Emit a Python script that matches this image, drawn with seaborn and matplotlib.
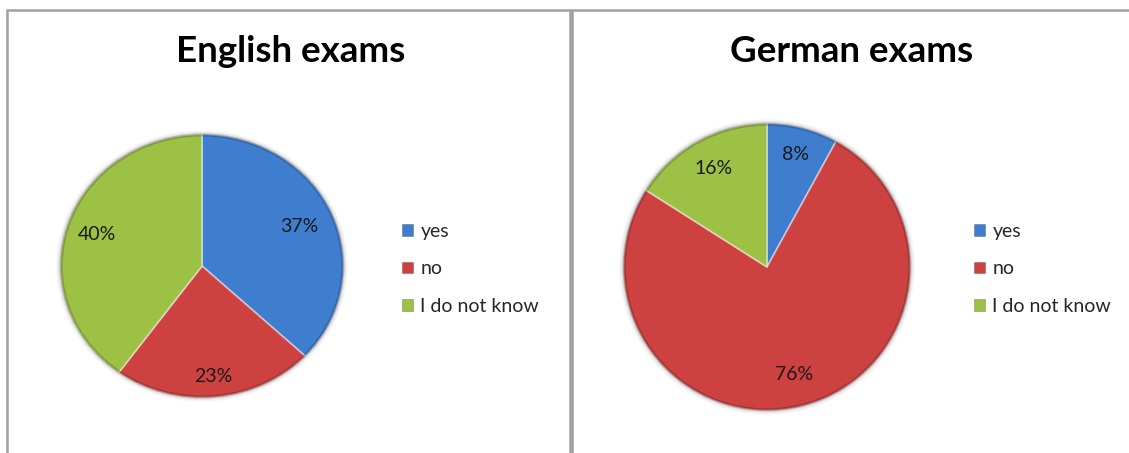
import matplotlib
matplotlib.use("Agg")
import matplotlib.pyplot as plt
from matplotlib.patches import Rectangle, Circle
import numpy as np
import seaborn as sns

sns.set_theme(style="white")
plt.rcParams["font.family"] = ["Lato", "DejaVu Sans"]

# Survey answers per exam
categories = ["yes", "no", "I do not know"]
english_share = [37, 23, 40]
german_share = [8, 76, 16]
titles = ["English exams", "German exams"]

colors = ["#3f7ecf", "#cd4141", "#9cc145"]

W, H = 1129, 453
fig = plt.figure(figsize=(W / 100, H / 100), dpi=100)

def fx(px):
    return px / W

def fy(py):
    return 1 - py / H

# panel frames
for x0, x1 in [(7, 570), (572, 1135)]:
    fig.patches.append(Rectangle((fx(x0), fy(470)), fx(x1 - x0), fy(10) - fy(470),
                                 transform=fig.transFigure, fill=False,
                                 edgecolor="#a0a0a0", linewidth=1.8, zorder=0))

panels = [
    dict(values=english_share, box=(59, 133, 345, 399), title_x=291, legend_x=402,
         label_r=[0.75, 0.84, 0.78]),
    dict(values=german_share, box=(622, 122, 912, 412), title_x=852, legend_x=974,
         label_r=[0.81, 0.77, 0.78]),
]

for title, p in zip(titles, panels):
    x0, y0, x1, y1 = p["box"]
    ax = fig.add_axes([fx(x0), fy(y1), fx(x1 - x0), fy(y0) - fy(y1)])
    # soft shadow around the pie
    for k, a in [(1.03, 0.04), (1.018, 0.06), (1.008, 0.08)]:
        ax.add_patch(Circle((0, 0), k, color=(0, 0, 0, a), linewidth=0,
                            zorder=0, clip_on=False))
    wedges, texts, autotexts = ax.pie(
        p["values"], colors=colors, startangle=90, counterclock=False,
        autopct="%d%%", pctdistance=0.76, radius=1.0,
        wedgeprops=dict(edgecolor=(1, 1, 1, 0.45), linewidth=1.3),
        textprops=dict(fontsize=14, color="#1a1a1a"),
    )
    # darker outer rim
    ax.add_patch(Circle((0, 0), 0.995, fill=False, edgecolor=(0, 0, 0, 0.2),
                        linewidth=2.2, zorder=3))
    # move each percentage along its wedge's bisector
    for w, t, r in zip(wedges, autotexts, p["label_r"]):
        mid = np.deg2rad((w.theta1 + w.theta2) / 2)
        t.set_position((r * np.cos(mid), r * np.sin(mid)))
        t.set_zorder(5)
    ax.set_aspect("auto")
    ax.set_xlim(-1.01, 1.01)
    ax.set_ylim(-1.01, 1.01)
    ax.axis("off")

    fig.text(fx(p["title_x"]), fy(62), title, ha="center", va="baseline",
             fontsize=26.5, fontweight="bold", color="#000000")

    handles = [Rectangle((0, 0), 1, 1, facecolor=c, edgecolor=(0, 0, 0, 0.25),
                         linewidth=0.6) for c in colors]
    fig.legend(handles, categories, loc="upper left",
               bbox_to_anchor=(fx(p["legend_x"]), fy(223)),
               frameon=False, fontsize=14, handlelength=0.55, handleheight=0.55,
               handletextpad=0.4, labelspacing=1.05, borderaxespad=0, borderpad=0)

fig.savefig("out.png", dpi=100)
